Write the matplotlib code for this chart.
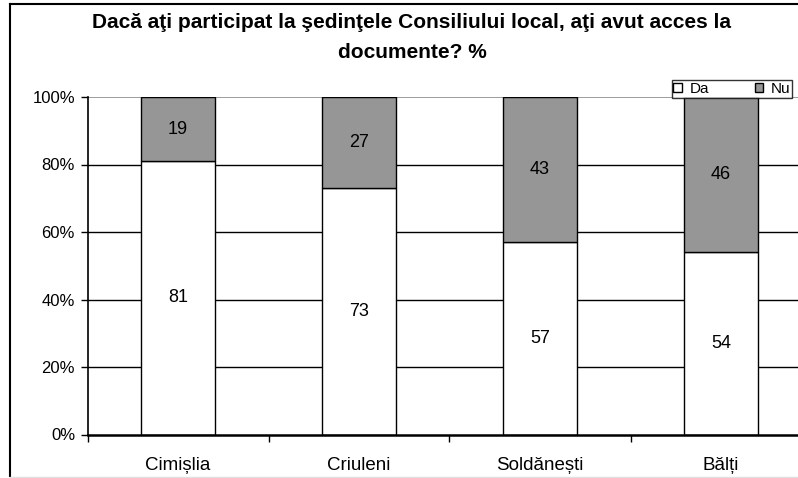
import matplotlib
matplotlib.use("Agg")
import matplotlib.pyplot as plt
from matplotlib.lines import Line2D
import numpy as np

plt.rcParams['font.family'] = ['Liberation Sans', 'DejaVu Sans']

categories = ["Cimișlia", "Criuleni", "Soldănești", "Bălți"]
da = [81, 73, 57, 54]
nu = [19, 27, 43, 46]
yticks = [0, 20, 40, 60, 80, 100]
ytick_labels = ["0%", "20%", "40%", "60%", "80%", "100%"]
title = "Dacă aţi participat la şedinţele Consiliului local, aţi avut acces la\ndocumente? %"

W, H = 798, 478
fig = plt.figure(figsize=(W / 100, H / 100), dpi=100)

# axes geometry in pixels
x0, x1 = 87.5, 87.5 + 4 * 181
y_top, y_bot = 97, 434.5
ax = fig.add_axes([x0 / W, 1 - y_bot / H, (x1 - x0) / W, (y_bot - y_top) / H])

x = np.arange(len(categories))
width = 0.41
b1 = ax.bar(x, da, width, color="white", edgecolor="black", linewidth=1.0, label="Da", zorder=3)
b2 = ax.bar(x, nu, width, bottom=da, color="#969696", edgecolor="black", linewidth=1.0, label="Nu", zorder=3)

for i in range(len(categories)):
    ax.text(x[i], da[i] / 2, str(da[i]), ha="center", va="center", fontsize=13, zorder=4)
    ax.text(x[i], da[i] + nu[i] / 2, str(nu[i]), ha="center", va="center", fontsize=13, zorder=4)

ax.set_xlim(-0.5, 3.5)
ax.set_ylim(0, 100)
ax.set_yticks(yticks)
ax.set_yticklabels(ytick_labels, fontsize=12)
for y in yticks[1:-1]:
    ax.axhline(y, color="black", linewidth=1.0, zorder=1)
ax.axhline(100, color="#8c8c8c", linewidth=1.2, zorder=1)

ax.set_xticks(x)
ax.set_xticklabels(categories, fontsize=13.5)
ax.tick_params(axis="x", length=0, pad=16)
ax.set_xticks(np.arange(-0.5, 3.6, 1.0), minor=True)
ax.tick_params(axis="x", which="minor", length=5, width=1, direction="out", color="black")
ax.tick_params(axis="y", length=5, width=1, direction="out", pad=4)

for s in ["top", "right"]:
    ax.spines[s].set_visible(False)
ax.spines["left"].set_linewidth(1.2)
ax.spines["bottom"].set_linewidth(1.8)
ax.spines["left"].set_zorder(5)
ax.spines["bottom"].set_zorder(5)

leg = ax.legend(handles=[b1, b2], labels=["Da", "Nu"], ncol=2, loc="upper right",
                bbox_to_anchor=((792 - x0) / (x1 - x0), 1 + (97 - 80.5) / (y_bot - y_top)),
                fontsize=11, frameon=True, fancybox=False, handlelength=0.55, handleheight=0.55,
                handletextpad=0.5, columnspacing=3.0, borderpad=0.1, borderaxespad=0)
leg.get_frame().set_edgecolor("black")
leg.get_frame().set_linewidth(1.0)
leg.set_zorder(6)

fig.text(412 / W, 1 - 37.5 / H, title, ha="center", va="center", fontsize=15, fontweight="bold",
         linespacing=1.8)

# chart frame
fig.add_artist(Line2D([9.5 / W, 9.5 / W], [1 - 4 / H, 1 - 476 / H], color="black", linewidth=1.5,
                      transform=fig.transFigure))
fig.add_artist(Line2D([9.5 / W, 1.0], [1 - 4 / H, 1 - 4 / H], color="black", linewidth=1.5,
                      transform=fig.transFigure))
fig.add_artist(Line2D([9.5 / W, 1.0], [1 - 476.5 / H, 1 - 476.5 / H], color="#e0e0e0", linewidth=1.0,
                      transform=fig.transFigure))

fig.savefig("out.png", dpi=100)
